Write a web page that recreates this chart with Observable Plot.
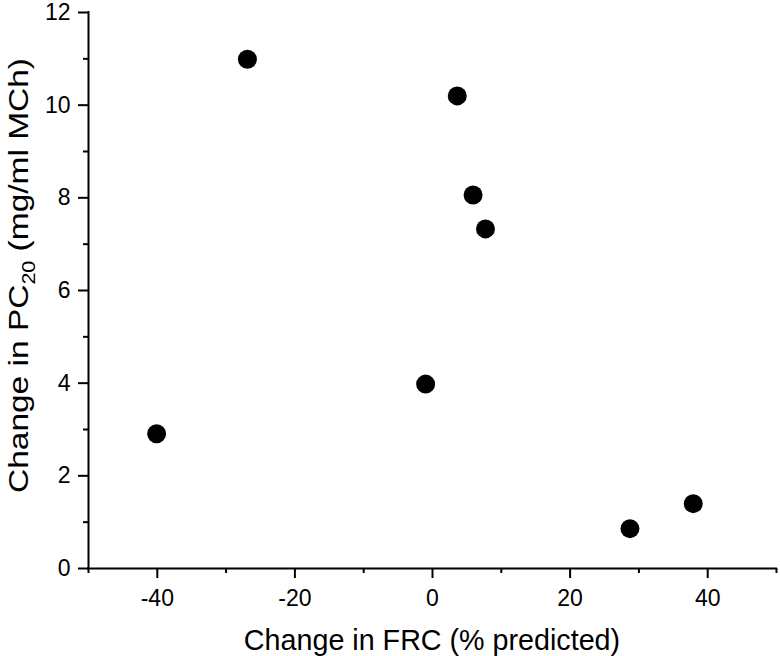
<!DOCTYPE html>
<html><head><meta charset="utf-8">
<script src="https://cdn.jsdelivr.net/npm/d3@7"></script>
<script src="https://cdn.jsdelivr.net/npm/@observablehq/plot@0.6"></script>
<style>body{margin:0;background:#fff}</style>
</head><body><div id="chart"></div>
<script>
const frcChange = [-40.1, -26.9, 3.6, 5.9, 7.7, -1.0, 28.7, 37.9];
const pc20Change = [2.91, 10.99, 10.20, 8.06, 7.33, 3.98, 0.86, 1.40];
const xMajorTicks = [-40, -20, 0, 20, 40];
const xMinorTicks = [-50, -30, -10, 10, 30, 50];
const yMajorTicks = [0, 2, 4, 6, 8, 10, 12];
const yMinorTicks = [1, 3, 5, 7, 9, 11];
const xTitle = "Change in FRC (% predicted)";
const yTitleParts = ["Change in PC", "20", " (mg/ml MCh)"];

const data = frcChange.map((x, i) => ({x, y: pc20Change[i]}));
const font = "'Liberation Sans', Arial, sans-serif";

const plot = Plot.plot({
  width: 780, height: 656,
  marginLeft: 88, marginRight: 4, marginTop: 12, marginBottom: 88,
  style: {fontFamily: font, fontSize: "23px", color: "#000", background: "#fff", overflow: "visible"},
  x: {domain: [-50, 50]},
  y: {domain: [0, 12]},
  marks: [
    Plot.axisX({ticks: xMajorTicks, tickSize: 10, tickPadding: 11, strokeWidth: 2, label: null, tickFormat: d => String(d), fontSize: 23}),
    Plot.axisX({ticks: xMinorTicks, tickSize: 5, strokeWidth: 2, text: null, label: null}),
    Plot.axisY({ticks: yMajorTicks, tickSize: 10, tickPadding: 8, strokeWidth: 2, label: null, tickFormat: d => String(d), fontSize: 23}),
    Plot.axisY({ticks: yMinorTicks, tickSize: 5, strokeWidth: 2, text: null, label: null}),
    Plot.ruleY([0], {strokeWidth: 2, strokeLinecap: "square"}),
    Plot.ruleX([-50], {strokeWidth: 2, strokeLinecap: "square"}),
    Plot.dot(data, {x: "x", y: "y", r: 9.5, fill: "#000"})
  ]
});
document.getElementById("chart").appendChild(plot);

const svg = d3.select(plot);
svg.append("text")
  .attr("x", 432).attr("y", 650)
  .attr("text-anchor", "middle")
  .attr("font-family", font).attr("font-size", 28.7).attr("fill", "#000")
  .text(xTitle);

const yt = svg.append("text")
  .attr("transform", "translate(28,275.5) rotate(-90)")
  .attr("text-anchor", "middle")
  .attr("textLength", 435).attr("lengthAdjust", "spacingAndGlyphs")
  .attr("font-family", font).attr("font-size", 28).attr("fill", "#000");
yt.append("tspan").text(yTitleParts[0]);
yt.append("tspan").attr("font-size", 18).attr("dy", 7).text(yTitleParts[1]);
yt.append("tspan").attr("dy", -7).text(yTitleParts[2]);
</script>
</body></html>
